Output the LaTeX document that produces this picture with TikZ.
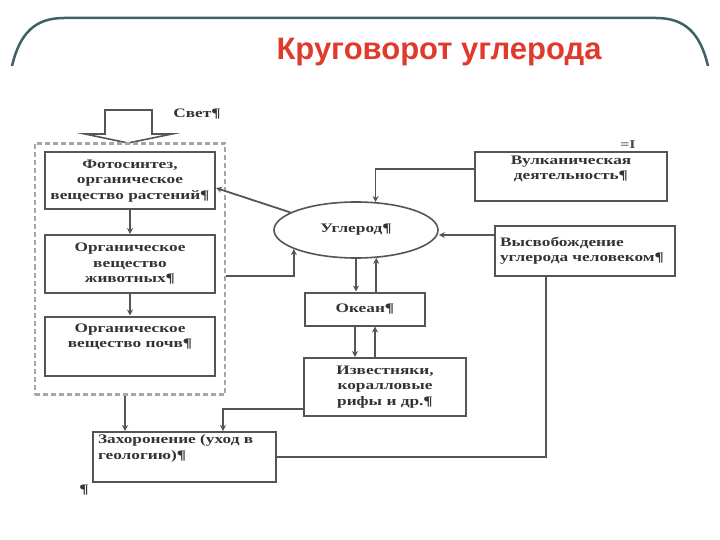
\documentclass[tikz,border=0pt]{standalone}
\usepackage{fontspec}
\setmainfont{Liberation Serif}
\newfontfamily\titlefont{Liberation Sans}
\newfontfamily\boxfont[FakeStretch=1.33]{Liberation Serif}
\usetikzlibrary{positioning,arrows.meta,shapes.geometric}
\definecolor{framegray}{HTML}{3F6166}
\definecolor{titlered}{HTML}{E03A2C}
\definecolor{linegray}{HTML}{555555}

\begin{document}
\begin{tikzpicture}[
  x=1pt, y=-1pt,
  font=\boxfont\bfseries\fontsize{13}{15.5}\selectfont,
  box/.style={draw=linegray, line width=2pt, align=center, inner sep=2pt, text=black!80},
  lbox/.style={box, align=left},
  arr/.style={-{Stealth[length=6pt, width=6pt]}, linegray, line width=1.8pt},
  ln/.style={linegray, line width=1.8pt}
]
\useasboundingbox (0,0) rectangle (720,540);
% ----- slide frame and title -----
\draw[framegray, line width=2.5pt] (12,66) .. controls (20,32) and (36,18) .. (64,18)
  -- (656,18) .. controls (684,18) and (700,32) .. (708,66);
\node[font=\titlefont\bfseries\fontsize{31}{31}\selectfont, text=titlered, anchor=base]
  (title) at (439,60) {Круговорот углерода};
% ----- light coming in -----
\draw[linegray, line width=1.6pt, fill=white] (105,110) -- (152,110) -- (152,134) -- (172,134)
  -- (128,143) -- (85,134) -- (105,134) -- cycle;
\node[text=black!80] (light) at (197,114) {Свет¶};
% ----- living matter (dashed group) -----
\node[draw=gray!70, dash pattern=on 5pt off 3pt, line width=2.8pt, minimum width=190pt,
      minimum height=251pt, inner sep=0pt] (bio) at (130,269) {};
\node[box, minimum width=170pt, minimum height=57pt] (photo) at (130,181)
  {Фотосинтез,\\органическое\\вещество растений¶};
\node[box, minimum width=170pt, minimum height=58pt] (anim) at (130,264)
  {Органическое\\вещество\\животных¶};
\node[box, minimum width=170pt, minimum height=59pt] (soil) at (130,346)
  {Органическое\\вещество почв¶\\\strut};
\node[lbox, minimum width=183pt, minimum height=50pt, text width=172pt] (burial) at (184,457)
  {Захоронение (уход в\\геологию)¶\\\strut};
\node[text=black!80] (pil) at (84,490) {¶};
% ----- carbon and its sources -----
\node[draw=linegray, line width=1.6pt, ellipse, minimum width=164pt, minimum height=56pt,
      inner sep=0pt, text=black!80] (carbon) at (356,230) {Углерод¶};
\node[box, minimum width=192pt, minimum height=49pt] (volcano) at (571,177)
  {Вулканическая\\деятельность¶\\[3pt]};
\node[text=black!70, font=\boxfont\bfseries\fontsize{12}{12}\selectfont] (mark) at (628,145) {=I};
\node[lbox, minimum width=180pt, minimum height=50pt, text width=170pt] (human) at (585,251)
  {Высвобождение\\углерода человеком¶\\[3pt]};
\node[box, minimum width=120pt, minimum height=33pt] (ocean) at (365,309) {Океан¶};
\node[box, minimum width=162pt, minimum height=58pt] (lime) at (385,387)
  {Известняки,\\коралловые\\рифы и др.¶};
% ----- connectors -----
\draw[arr] (photo) -- (anim);
\draw[arr] (anim) -- (soil);
\draw[arr] (carbon.165) -- ([yshift=-7pt]photo.east);
\draw[arr] ([yshift=-7pt]bio.east) -| (carbon.197);
\draw[arr] ([yshift=8pt]volcano.west) -| (carbon.55);
\draw[arr] ([yshift=16pt]human.west) -- ([yshift=16pt]human.west -| carbon.east);
\draw[ln]  ([xshift=-39pt]human.south) |- (burial.east);
\draw[arr] (carbon.south) -- (carbon.south |- ocean.north);
\draw[arr] (carbon.306 |- ocean.north) -- (carbon.306);
\draw[arr] ([xshift=-10pt]ocean.south) -- ([xshift=-30pt]lime.north);
\draw[arr] ([xshift=-10pt]lime.north) -- ([xshift=10pt]ocean.south);
\draw[arr] ([yshift=-22pt]lime.west) -| ([xshift=39pt]burial.north);
\draw[arr] ([xshift=-5pt]bio.south) -- ([xshift=-5pt]bio.south |- burial.north);
\end{tikzpicture}
\end{document}
